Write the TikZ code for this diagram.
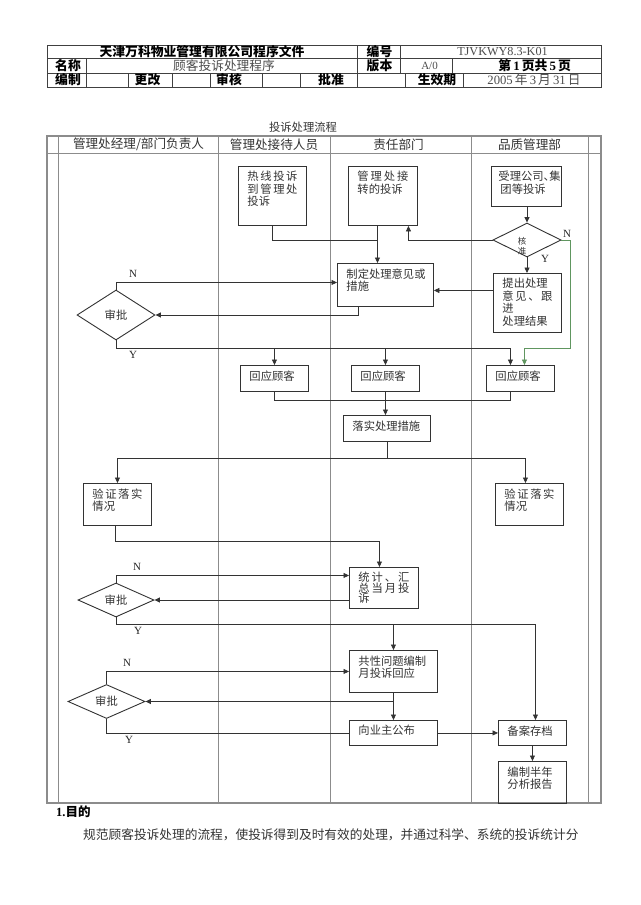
\documentclass[tikz,border=0pt]{standalone}
\usepackage{fontspec}
\setmainfont{Liberation Serif}
\newfontfamily\cjk{Noto Sans CJK SC}
\usetikzlibrary{arrows.meta,shapes.geometric,calc}
\definecolor{ngreen}{RGB}{96,150,96}
\newcommand\bxfont{\cjk\fontsize{11.3}{12.5}\selectfont}
\newcommand\spr[1]{\makebox[\linewidth][s]{#1}}
\newcommand\fb[6]{\node[fbox,minimum width=#4pt,minimum height=#5pt] (#1) at (#2,#3) {\parbox[c][#5pt][t]{\dimexpr#4pt-18pt\relax}{\bxfont\vspace*{5pt}#6}};}
\begin{document}
\begin{tikzpicture}[x=1pt,y=-1pt,
  tl/.style={draw=black!75,line width=0.8pt},
  ll/.style={draw=black!45,line width=1pt},
  fl/.style={draw=black!80,line width=0.8pt},
  arr/.style={fl,-{Triangle[length=5.5pt,width=5pt]}},
  fbox/.style={draw=black!80,line width=0.9pt,anchor=north west,inner xsep=9pt,inner ysep=0pt,text=black!80},
  dia/.style={diamond,draw=black!80,line width=0.9pt,inner sep=0pt,font=\bxfont,text=black!80},
  yn/.style={font=\fontsize{11}{12}\selectfont,text=black!85,inner sep=0pt},
  hb/.style={font=\cjk\bfseries\fontsize{12.8}{14}\selectfont,inner sep=0pt},
  hr/.style={font=\cjk\fontsize{12.7}{14}\selectfont,text=black!70,inner sep=0pt},
  lh/.style={font=\cjk\fontsize{12.6}{14}\selectfont,text=black!80,inner sep=0pt},
]
\fill[white] (0,0) rectangle (640,905);
\useasboundingbox (0,0) rectangle (640,905);

% ---------- header table ----------
\draw[tl] (47,45) rectangle (601,87.5);
\draw[tl] (47,58.5) -- (601,58.5) (47,73) -- (601,73);
\foreach \x in {357,400} \draw[tl] (\x,45) -- (\x,58.5);
\foreach \x in {86,357,400,452} \draw[tl] (\x,58.5) -- (\x,73);
\foreach \x in {86,128,172,210,262,300,357,405,463} \draw[tl] (\x,73) -- (\x,87.5);
\node[hb] (ht1) at (202,52) {天津万科物业管理有限公司程序文件};
\node[hb] (ht2) at (379.5,52) {编号};
\node[inner sep=0pt,text=black!70,font=\fontsize{12.2}{14}\selectfont] (ht3) at (502.5,52) {TJVKWY8.3-K01};
\node[hb] (ht4) at (68,66) {名称};
\node[hr] (ht5) at (224,66) {顾客投诉处理程序};
\node[hb] (ht6) at (379.5,66) {版本};
\node[inner sep=0pt,text=black!70,font=\fontsize{11}{13}\selectfont] (ht7) at (429.5,66) {A/0};
\node[hb] (ht8) at (534.6,66) {第\,{\rmfamily 1}\,页共\,{\rmfamily 5}\,页};
\node[hb] (ht9) at (68,80) {编制};
\node[hb] (ht10) at (147.5,80) {更改};
\node[hb] (ht11) at (229,80) {审核};
\node[hb] (ht12) at (331,80) {批准};
\node[hb] (ht13) at (437,80) {生效期};
\node[hr] (ht14) at (534,80) {{\rmfamily 2005}\,年\,{\rmfamily 3}\,月\,{\rmfamily 31}\,日};

% ---------- swimlane frame ----------
\node[inner sep=0pt,text=black!80,font=\cjk\fontsize{11.3}{13}\selectfont] (title) at (303,127.5) {投诉处理流程};
\draw[ll,line width=1.3pt] (47,136) rectangle (601,803);
\draw[ll] (47,153) -- (601,153);
\foreach \x in {58,218,330,471,588} \draw[ll] (\x,136) -- (\x,803);
\node[lh] (lane1) at (138.5,144.5) {管理处经理/部门负责人};
\node[lh] (lane2) at (274,144.5) {管理处接待人员};
\node[lh] (lane3) at (398.5,144.5) {责任部门};
\node[lh] (lane4) at (529.5,144.5) {品质管理部};

% ---------- boxes ----------
\fb{hot}{238}{166}{68}{59}{\spr{热\hfil 线\hfil 投\hfil 诉}\\\spr{到\hfil 管\hfil 理\hfil 处}\\投诉}
\fb{tr}{348}{166}{69}{59}{\spr{管\hfil 理\hfil 处\hfil 接}\\转的投诉}
\fb{acc}{491}{166}{70}{40}{\hspace*{-2pt}受理公司、\kern-5.5pt 集\\团等投诉}
\fb{fix}{337}{263}{96}{43}{制定处理意见或\\措施}
\fb{prop}{493}{273}{68}{59}{提出处理\\\spr{意\hfil 见\hfil 、\hfil 跟}\\进\\处理结果}
\fb{r2}{240}{365}{68}{26}{回应顾客}
\fb{r3}{351}{365}{68}{26}{回应顾客}
\fb{r4}{486}{365}{68}{26}{回应顾客}
\fb{impl}{343}{415}{87}{26}{落实处理措施}
\fb{v1}{83}{483}{68}{42}{\spr{验\hfil 证\hfil 落\hfil 实}\\情况}
\fb{v4}{495}{483}{68}{42}{\spr{验\hfil 证\hfil 落\hfil 实}\\情况}
\fb{stat}{349}{567}{69}{41}{\fontsize{11.3}{10.5}\selectfont\spr{统\hfil 计\hfil 、\hfil 汇}\\\spr{总\hfil 当\hfil 月\hfil 投}\\诉}
\fb{com}{349}{650}{88}{42}{共性问题编制\\月投诉回应}
\fb{pub}{349}{720}{88}{25}{向业主公布}
\fb{arc}{498}{720}{68}{25}{备案存档}
\fb{rep}{498}{761}{68}{42}{编制半年\\分析报告}

% ---------- diamonds ----------
\node[dia,minimum width=68pt,minimum height=34pt] (chk) at (527,240) {};
\node[inner sep=0pt,align=center,text=black!80,font=\cjk\fontsize{8.5}{10}\selectfont] (chkt) at (522,246.7) {核\\准};
\node[dia,minimum width=78pt,minimum height=50pt] (D1) at (116,315) {审批};
\node[dia,minimum width=76pt,minimum height=34pt] (D2) at (116,600) {审批};
\node[dia,minimum width=77pt,minimum height=34pt] (D3) at (106.5,701.5) {审批};

% ---------- connectors ----------
\coordinate (tro) at ([xshift=-5.5pt]tr.south);
\draw[arr] (tro) -- (tro |- fix.north);
\coordinate (j1) at (tro |- chk.west);
\draw[fl] (hot.south) |- (j1);
\coordinate (tri) at ([xshift=25.5pt]tr.south);
\draw[arr] (chk.west) -| (tri);
\draw[arr] (chk.north |- acc.south) -- (chk.north);
\draw[arr] (chk.south) -- (chk.south |- prop.north);
\coordinate (p1) at ([yshift=12.5pt]prop.west);
\draw[arr] (p1) -- (p1 -| fix.east);
\coordinate (f1) at ([xshift=-27pt]fix.south);
\draw[arr] (f1) |- (D1.east);
\coordinate (f2) at ([yshift=2.5pt]fix.west);
\draw[arr] (D1.north) |- (f2);
\coordinate (yb) at ($(r4.north)+(-10,-16.5)$);
\draw[arr] (D1.south) |- (yb) -- ([xshift=-10pt]r4.north);
\draw[arr] (r2.north |- yb) -- (r2.north);
\draw[arr] (r3.north |- yb) -- (r3.north);
\coordinate (nb) at ($(r4.north)+(50,-16.5)$);
\draw[arr,draw=ngreen] (chk.east) -| (nb) -| ([xshift=4pt]r4.north);
\draw[fl] (r2.south) -- ++(0,8) -| ([xshift=-10pt]r4.south);
\draw[arr] (r3.south) -- (r3.south |- impl.north);
\draw[fl] (impl.south) -- ++(0,16) coordinate (ib);
\draw[arr] (ib) -| (v1.north);
\draw[arr] (ib) -| ([xshift=-4pt]v4.north);
\coordinate (sb) at ($(stat.north)+(-4.5,-26)$);
\draw[arr] ([xshift=-2pt]v1.south) |- (sb) -- ([xshift=-4.5pt]stat.north);
\draw[arr] (stat.west |- D2.east) -- (D2.east);
\coordinate (s2) at ([yshift=12.5pt]stat.west);
\draw[arr] (D2.north) |- (s2);
\coordinate (y2b) at ($(arc.north)+(3,-96)$);
\draw[arr] (D2.south) |- (y2b) -- ([xshift=3pt]arc.north);
\draw[arr] (com.north |- y2b) -- (com.north);
\draw[arr] (com.south) -- (pub.north);
\draw[arr] (com.south |- D3.east) -- (D3.east);
\draw[arr] (D3.north) |- (com.west);
\draw[fl] (D3.south) |- (pub.west);
\draw[arr] (pub.east) -- (arc.west);
\draw[arr] (arc.south) -- (rep.north);

% ---------- N / Y labels ----------
\node[yn] (n1) at (133,274) {N};
\node[yn] (y1) at (133,355) {Y};
\node[yn] (nc) at (567,234) {N};
\node[yn] (yc) at (545,259) {Y};
\node[yn] (n2) at (137,567) {N};
\node[yn] (y2) at (138,631) {Y};
\node[yn] (n3) at (127,663) {N};
\node[yn] (y3) at (129,740) {Y};

% ---------- text below ----------
\node[anchor=west,inner sep=0pt,font=\bfseries\fontsize{12.5}{14}\selectfont] (sec) at (56,812) {1.{\cjk 目的}};
\node[anchor=west,inner sep=0pt,text=black!80,font=\cjk\fontsize{12.7}{15}\selectfont] (para) at (83,835) {规范顾客投诉处理的流程，使投诉得到及时有效的处理，并通过科学、系统的投诉统计分};
\end{tikzpicture}
\end{document}
